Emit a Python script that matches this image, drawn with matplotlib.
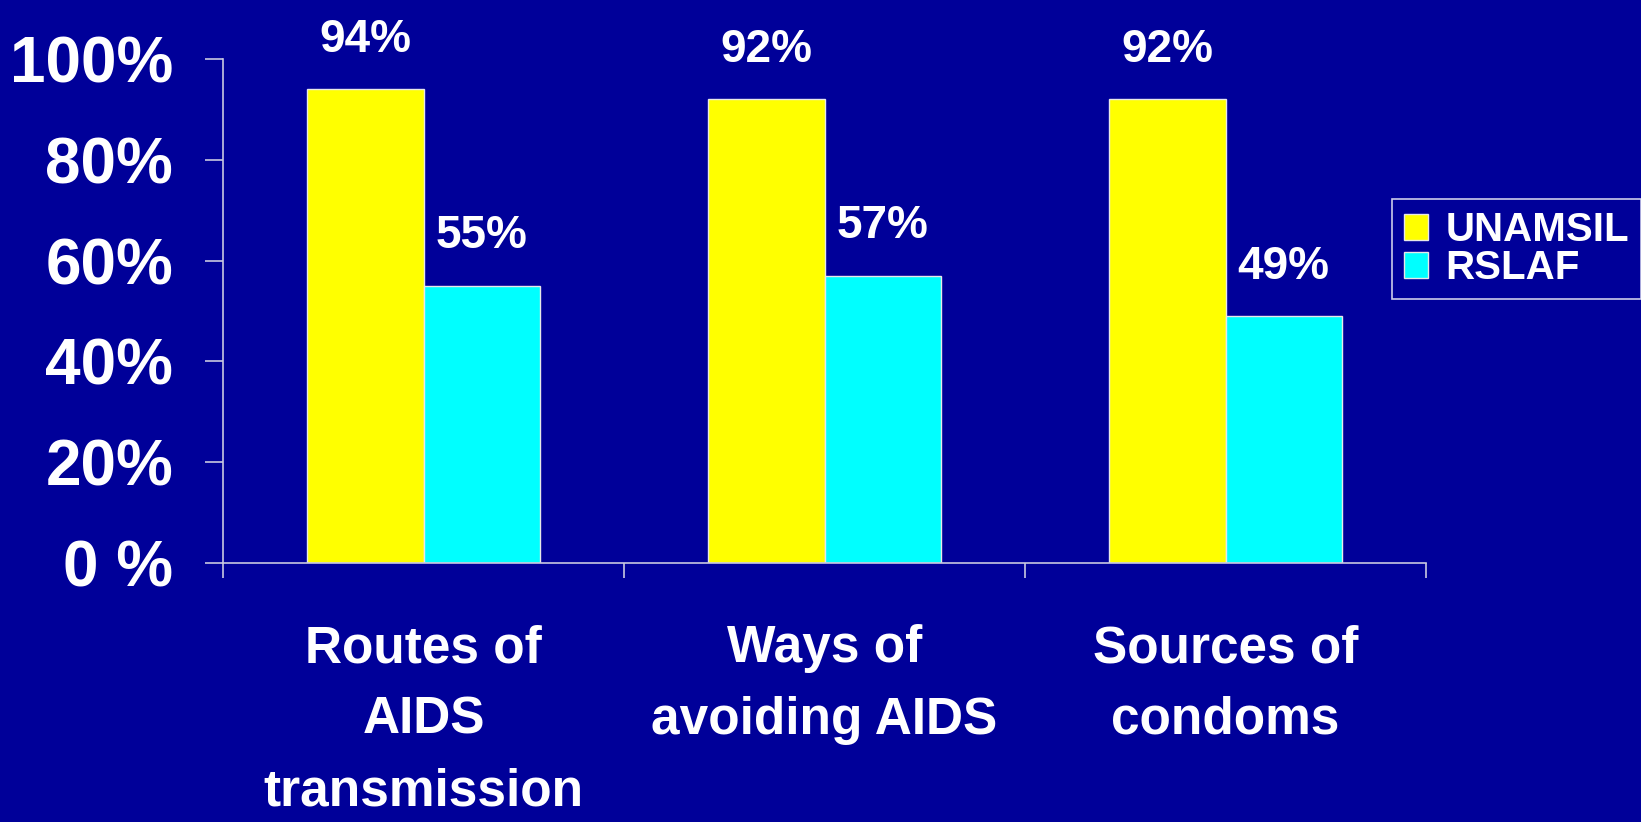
import matplotlib
matplotlib.use("Agg")
import matplotlib.pyplot as plt
import numpy as np

categories = ["Routes of\nAIDS\ntransmission", "Ways of\navoiding AIDS", "Sources of\ncondoms"]
series_names = ["UNAMSIL", "RSLAF"]
unamsil = [94, 92, 92]
rslaf = [55, 57, 49]
ytick_values = [0, 20, 40, 60, 80, 100]
ytick_labels = ["0 %", "20%", "40%", "60%", "80%", "100%"]

BG = "#000099"
LINE = "#c8c8e0"
plt.rcParams['font.family'] = ['Liberation Sans', 'DejaVu Sans']
plt.rcParams['font.weight'] = 'bold'

fig = plt.figure(figsize=(16.41, 8.22), dpi=100, facecolor=BG)
ax = fig.add_axes([223/1641, 1-563/822, (1426-223)/1641, (563-59)/822], facecolor=BG)

x = np.arange(len(categories))
w = 0.29
b1 = ax.bar(x - w/2, unamsil, w, color="#ffff00", edgecolor="#e8e8e8", linewidth=1.0, label=series_names[0])
b2 = ax.bar(x + w/2, rslaf, w, color="#00ffff", edgecolor="#e8e8e8", linewidth=1.0, label=series_names[1])

for bars, vals in ((b1, unamsil), (b2, rslaf)):
    for r, v in zip(bars, vals):
        ax.annotate(f"{v}%", (r.get_x() + r.get_width()/2, v), xytext=(0, 27),
                    textcoords="offset points", ha="center", va="baseline",
                    color="white", fontsize=33, fontweight="bold")

ax.set_xlim(-0.5, len(categories) - 0.5)
ax.set_ylim(0, 100)
ax.set_yticks(ytick_values)
ax.set_yticklabels(ytick_labels, fontsize=46, fontweight="bold", color="white")
ax.tick_params(axis="y", length=13, width=1.2, color=LINE, pad=23)

ax.set_xticks(x)
ax.set_xticklabels(categories, fontsize=37, fontweight="bold", color="white", linespacing=1.6)
ax.tick_params(axis="x", which="major", length=0, pad=44)
ax.set_xticks(np.arange(len(categories) + 1) - 0.5, minor=True)
ax.tick_params(axis="x", which="minor", length=11, width=1.2, color=LINE)

for s in ("top", "right"):
    ax.spines[s].set_visible(False)
for s in ("left", "bottom"):
    ax.spines[s].set_color(LINE)
    ax.spines[s].set_linewidth(1.2)

leg = fig.legend(handles=[b1, b2], labels=series_names, loc="upper left",
                 bbox_to_anchor=(1392/1641, 1-199/822), frameon=True, fancybox=False,
                 edgecolor="white", facecolor=BG, fontsize=29, handlelength=0.6,
                 handleheight=0.6, handletextpad=0.42, borderpad=0.3, labelspacing=0.0,
                 borderaxespad=0)
leg.get_frame().set_linewidth(1.2)
for t in leg.get_texts():
    t.set_color("white")
    t.set_fontweight("bold")

fig.savefig("out.png", dpi=100, facecolor=BG)
